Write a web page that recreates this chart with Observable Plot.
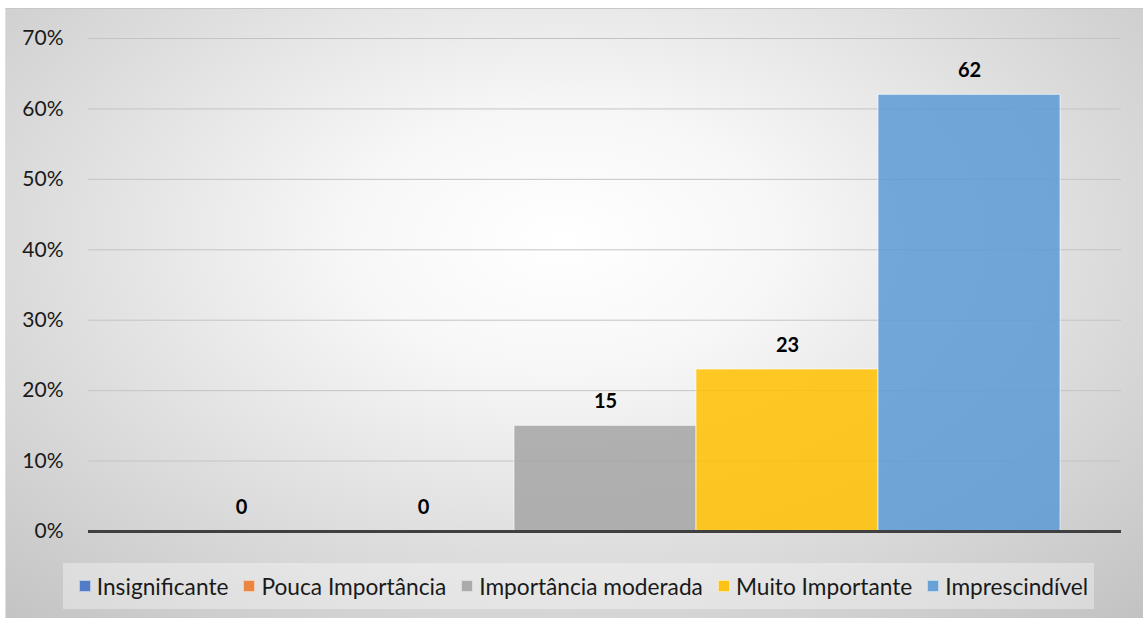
<!DOCTYPE html>
<html>
<head>
<meta charset="utf-8">
<script src="https://cdn.jsdelivr.net/npm/d3@7"></script>
<script src="https://cdn.jsdelivr.net/npm/@observablehq/plot@0.6"></script>
<style>
  html, body { margin: 0; padding: 0; background: #ffffff; }
  #frame {
    position: absolute; left: 5px; top: 8px; width: 1138px; height: 610px;
    background: radial-gradient(ellipse 75% 85% at 49% 38%, #ffffff 0%, #f7f7f7 25%, #dedede 60%, #c2c2c2 100%);
    border-top: 1px solid #c8c8c8; border-left: 1px solid #e0e0e0;
    box-sizing: border-box;
  }
  #chart { position: absolute; left: 0; top: 0; }
  #legend {
    position: absolute; left: 63px; top: 563px; width: 1031px; height: 46px;
    box-sizing: border-box; padding-left: 10px;
    background: rgba(255,255,255,0.35);
    display: flex; align-items: center; justify-content: center; gap: 15px;
    font-family: Lato, "Open Sans", sans-serif; font-size: 22.7px; color: #1a1a1a;
  }
  .item { display: flex; align-items: center; gap: 6px; white-space: nowrap; }
  .sw { width: 12px; height: 12px; box-sizing: border-box; border: 1px solid rgba(255,255,255,0.6); }
</style>
</head>
<body>
<div id="frame"></div>
<div id="chart"></div>
<div id="legend"></div>
<script>
// Share of responses per importance level (%)
const categories = ["Insignificante", "Pouca Importância", "Importância moderada", "Muito Importante", "Imprescindível"];
const values = [0, 0, 15, 23, 62];
const colors = ["#4472C4", "#ED7D31", "#A5A5A5", "#FFC000", "#5B9BD5"];
const yTicks = [0, 10, 20, 30, 40, 50, 60, 70];

const rows = categories.map((c, i) => ({category: c, value: values[i]}));

const chart = Plot.plot({
  width: 1143,
  height: 551,
  marginLeft: 88,
  marginRight: 22,
  marginTop: 38,
  marginBottom: 20,
  style: {background: "transparent", fontFamily: "Lato, 'Open Sans', sans-serif", fontSize: "21px", color: "#1a1a1a"},
  x: {domain: categories, paddingInner: 0, paddingOuter: 0.3225, axis: null},
  y: {domain: [0, 70], ticks: yTicks, tickFormat: d => d + "%", tickSize: 0, tickPadding: 25, label: null},
  color: {domain: categories, range: colors},
  marks: [
    Plot.gridY(yTicks, {stroke: "#c4c4c4", strokeOpacity: 1, strokeWidth: 1}),
    Plot.axisY(yTicks, {tickSize: 0, tickPadding: 25, tickFormat: d => d + "%", label: null, fontSize: 21}),
    Plot.barY(rows, {x: "category", y: "value", fill: "category", fillOpacity: 0.85,
      stroke: "#ffffff", strokeOpacity: 0.6, strokeWidth: 1}),
    Plot.ruleY([0], {stroke: "#404040", strokeWidth: 3}),
    Plot.text(rows, {x: "category", y: "value", text: d => String(d.value), dy: -24,
      fontWeight: "bold", fontSize: 20, fill: "#000000"})
  ]
});
document.getElementById("chart").appendChild(chart);

const legend = d3.select("#legend");
categories.forEach((c, i) => {
  const item = legend.append("div").attr("class", "item");
  item.append("div").attr("class", "sw").style("background", colors[i]).style("opacity", 0.9);
  item.append("span").text(c);
});
</script>
</body>
</html>
